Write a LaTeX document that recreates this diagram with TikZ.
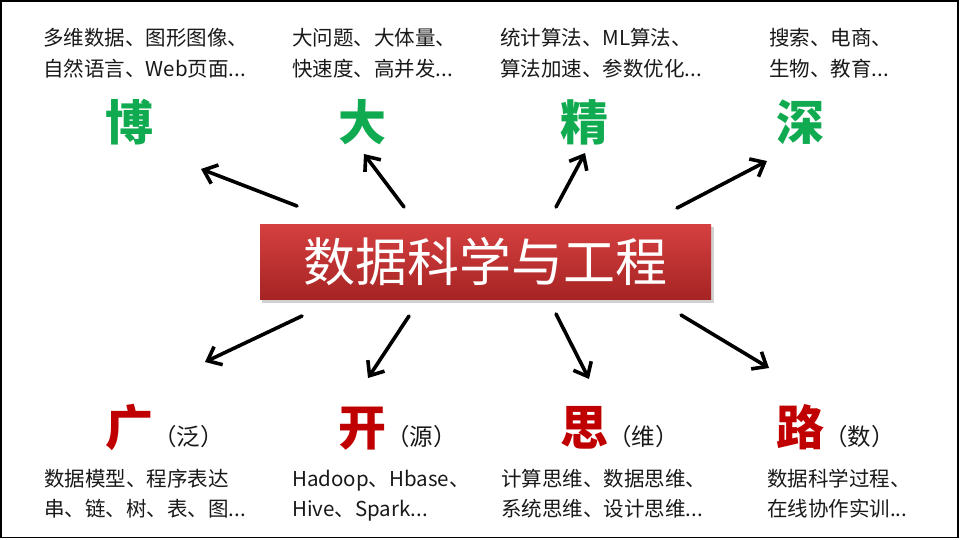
\documentclass[tikz,border=0pt]{standalone}
\usepackage{fontspec}
\usetikzlibrary{arrows.meta}
\newfontfamily\cjk{Noto Sans CJK SC}
\definecolor{leafgreen}{RGB}{16,170,80}
\definecolor{deepred}{RGB}{192,0,0}
\definecolor{boxtop}{RGB}{214,64,64}
\definecolor{boxbottom}{RGB}{166,36,36}
% smaller, normal-weight text set beside a big keyword
\newcommand\glossfont{\mdseries\fontsize{23.5}{26}\selectfont\color{black!90}}
\tikzset{
  note/.style={anchor=base west,inner sep=0pt,align=left,
    font=\cjk\fontsize{20.5}{31}\selectfont,text=black!90},
  lownote/.style={note,font=\cjk\fontsize{20.5}{30}\selectfont},
  bigword/.style={anchor=base west,inner sep=0pt,
    font=\cjk\bfseries\fontsize{48}{48}\selectfont,text=leafgreen},
  redword/.style={anchor=base west,inner sep=0pt,text=deepred,
    font=\cjk\bfseries\fontsize{48}{48}\selectfont},
  spoke/.style={line width=3.6pt,line cap=round,
    -{Straight Barb[length=12pt,width=20pt,line width=3.6pt]}},
}
\begin{document}
\begin{tikzpicture}[x=1pt,y=-1pt]
  \useasboundingbox (0,0) rectangle (960,540);
  \fill[white] (0,0) rectangle (960,540);
  \draw[line width=1.6pt] (0.8,0.8) rectangle (957.8,537.6);

  % central title
  \fill[black,opacity=0.18] (262,227) rectangle (714,303);
  \node[minimum width=451pt,minimum height=75pt,inner sep=0pt,
        top color=boxtop,bottom color=boxbottom,
        font=\cjk\fontsize{52}{52}\selectfont,text=white]
        (core) at (485.5,261.5) {数据科学与工程};

  % upper keywords
  \node[bigword] (bo)   at (105,141) {博};
  \node[bigword] (da)   at (338,141) {大};
  \node[bigword] (jing) at (560,141) {精};
  \node[bigword] (shen) at (776,141) {深};

  % two-line notes: the anchor sits on the second line's baseline
  \node[note] (boText)   at (43,77)  {多维数据、图形图像、\\自然语言、Web页面...};
  \node[note] (daText)   at (292,77) {大问题、大体量、\\快速度、高并发...};
  \node[note] (jingText) at (500,77) {统计算法、ML算法、\\算法加速、参数优化...};
  \node[note] (shenText) at (769,77) {搜索、电商、\\生物、教育...};

  % lower keywords
  \node[redword] (guang) at (105,445) {广{\glossfont（泛）}};
  \node[redword] (kai)   at (338,445) {开{\glossfont（源）}};
  \node[redword] (si)    at (560,445) {思{\glossfont（维）}};
  \node[redword] (lu)    at (776,445) {路{\glossfont（数）}};

  \node[lownote] (guangText) at (44,516)  {数据模型、程序表达\\串、链、树、表、图...};
  \node[lownote] (kaiText)   at (292,516) {Hadoop、Hbase、\\Hive、Spark...};
  \node[lownote] (siText)    at (501,516) {计算思维、数据思维、\\系统思维、设计思维...};
  \node[lownote] (luText)    at (767,516) {数据科学过程、\\在线协作实训...};

  % spoke ends
  \coordinate (t1) at (297,206); \coordinate (h1) at (201,169);
  \coordinate (t2) at (404,207); \coordinate (h2) at (364,154);
  \coordinate (t3) at (556,207); \coordinate (h3) at (585,153);
  \coordinate (t4) at (677,208); \coordinate (h4) at (767,161);
  \coordinate (t5) at (302,316); \coordinate (h5) at (205,362);
  \coordinate (t6) at (409,316); \coordinate (h6) at (368,378);
  \coordinate (t7) at (556,314); \coordinate (h7) at (589,379);
  \coordinate (t8) at (681,315); \coordinate (h8) at (769,368);

  \foreach \i in {1,...,8}
    \draw[spoke] (t\i) -- (h\i);
\end{tikzpicture}
\end{document}
